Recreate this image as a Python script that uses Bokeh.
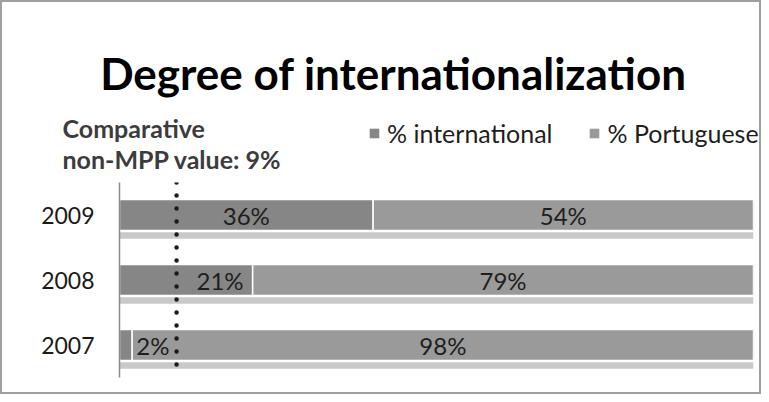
from bokeh.plotting import figure
from bokeh.models import (ColumnDataSource, FactorRange, Range1d, Span, Label,
                          Legend, LegendItem)
from bokeh.transform import dodge
from bokeh.core.properties import value
from bokeh.embed import file_html
from bokeh.resources import INLINE

# ---- data ----
years = ["2007", "2008", "2009"]
pct_international = [2, 21, 36]
pct_portuguese = [98, 79, 54]
comparative_value = 9
title_text = "Degree of internationalization"
note_lines = ["Comparative", "non-MPP value:  9%"]
series_names = ["% international", "% Portuguese"]
series_colors = ["#868686", "#9a9a9a"]

# 100% stacked shares
tot = [a + b for a, b in zip(pct_international, pct_portuguese)]
share_int = [a / t * 100 for a, t in zip(pct_international, tot)]
share_por = [b / t * 100 for b, t in zip(pct_portuguese, tot)]

FONT = "Lato"
W = 761
H_TOP = 182
H_BOT = 212
BORDER = "#a0a0a0"

# ---------------- header figure (title, note, legend) ----------------
top = figure(width=W, height=H_TOP, output_backend="svg", toolbar_location=None,
             x_range=Range1d(0, W), y_range=Range1d(H_TOP, 0),
             x_axis_location=None, y_axis_location=None, min_border=0)
top.grid.visible = False
top.outline_line_color = None
top.background_fill_color = None
top.border_fill_color = None
top.styles = {"box-shadow": f"inset 2px 0 0 {BORDER}, inset -2px 0 0 {BORDER}, inset 0 2px 0 {BORDER}"}

top.add_layout(Label(x=393, y=72, text=title_text, text_align="center",
                     text_baseline="alphabetic", text_font=FONT,
                     text_font_style="bold", text_font_size="44px",
                     text_color="#000000"))
for txt, yb in zip(note_lines, [127, 158]):
    top.add_layout(Label(x=62, y=yb, text=txt, text_baseline="alphabetic",
                         text_font=FONT, text_font_style="bold",
                         text_font_size="25px", text_color="#3c3c3c"))

# legend-only renderers (zero-width bars, so only their legend swatches show)
key_src = ColumnDataSource(dict(y=[-50], l=[0], r=[0]))
dummy = [top.hbar(y="y", left="l", right="r", height=0, source=key_src,
                  fill_color=c, line_color=None) for c in series_colors]
leg = Legend(items=[LegendItem(label=n, renderers=[r]) for n, r in zip(series_names, dummy)],
             orientation="horizontal", location=(368, 34),
             border_line_color=None, background_fill_alpha=0,
             padding=0, margin=0, spacing=36, label_standoff=7,
             glyph_width=12, glyph_height=12,
             label_text_font=FONT, label_text_font_size="25px",
             label_text_color="#1e1e1e")
top.add_layout(leg, "center")

# ---------------- chart figure ----------------
src = ColumnDataSource(dict(
    year=years,
    int_l=[0] * 3, int_r=share_int,
    por_l=share_int, por_r=[s + q for s, q in zip(share_int, share_por)],
    full=[100] * 3,
))

p = figure(width=W, height=H_BOT, output_backend="svg", toolbar_location=None,
           y_range=FactorRange(factors=years, range_padding=0),
           x_range=Range1d(0, 100),
           min_border_left=119, min_border_right=8,
           min_border_top=0, min_border_bottom=17)
p.background_fill_color = None
p.border_fill_color = None
p.outline_line_color = None
p.grid.visible = False
p.xaxis.visible = False
p.styles = {"box-shadow": f"inset 2px 0 0 {BORDER}, inset -2px 0 0 {BORDER}, inset 0 -2px 0 {BORDER}"}

ax = p.yaxis[0]
ax.axis_line_color = "#8a8a8a"
ax.axis_line_width = 1.5
ax.major_tick_line_color = None
ax.minor_tick_line_color = None
ax.major_tick_out = 0
ax.major_tick_in = 0
ax.major_label_standoff = 25
ax.major_label_text_font = FONT
ax.major_label_text_font_size = "23px"
ax.major_label_text_color = "#1a1a1a"

# shadow strip under each bar
p.hbar(y=dodge("year", -0.315, range=p.y_range), left=0, right="full", height=0.1,
       source=src, fill_color="#c9c9c9", line_color=None)

p.hbar(y="year", left="int_l", right="int_r", height=0.48, source=src,
       fill_color=series_colors[0], line_color="white", line_width=1.5)
p.hbar(y="year", left="por_l", right="por_r", height=0.48, source=src,
       fill_color=series_colors[1], line_color="white", line_width=1.5)

# bar value labels
int_dx = [27, 34, 0]
lab = ColumnDataSource(dict(
    x=[s / 2 for s in share_int] + [a + b / 2 for a, b in zip(share_int, share_por)],
    y=years + years,
    t=[f"{v}%" for v in pct_international] + [f"{v}%" for v in pct_portuguese],
    dx=int_dx + [0, 0, 0],
))
p.text(x="x", y="y", text="t", x_offset="dx", source=lab, text_align="center",
       text_baseline="middle", text_font=value(FONT), text_font_size="24px",
       text_color="#1e1e1e")

# comparative dotted line
p.add_layout(Span(location=comparative_value, dimension="height",
                  line_color="#1a1a1a", line_width=4.5, line_dash="0 13",
                  line_cap="round"))

open("out.html", "w").write(file_html([top, p], INLINE))
